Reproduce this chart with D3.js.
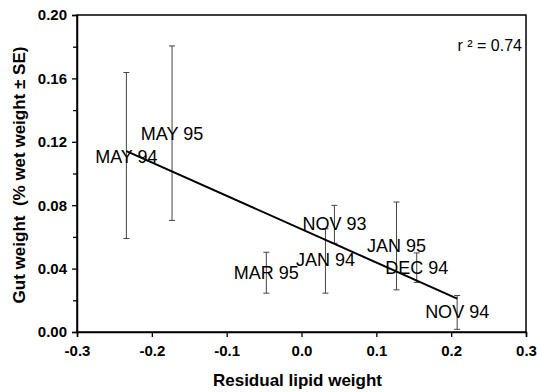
<!DOCTYPE html>
<html>
<head>
<meta charset="utf-8">
<script src="https://cdn.jsdelivr.net/npm/d3@7"></script>
<style>
  body { margin: 0; background: #fff; }
  text { font-family: "Liberation Sans", Arial, sans-serif; }
</style>
</head>
<body>
<div id="chart"></div>
<script>
const width = 537;
const height = 392;

// data
const months = ['MAY 94', 'MAY 95', 'MAR 95', 'JAN 94', 'NOV 93', 'JAN 95', 'DEC 94', 'NOV 94'];
const lipid = [-0.234, -0.173, -0.047, 0.032, 0.044, 0.127, 0.154, 0.208];
const gutMean = [0.111, 0.1255, 0.0378, 0.0455, 0.0683, 0.0543, 0.0406, 0.0127];
const gutLow = [0.059, 0.0704, 0.0245, 0.0245, 0.056, 0.0266, 0.0313, 0.0017];
const gutHigh = [0.1637, 0.1805, 0.0503, 0.0651, 0.0799, 0.082, 0.0499, 0.023];
const xTicks = [-0.3, -0.2, -0.1, 0.0, 0.1, 0.2, 0.3];
const yTicks = [0.00, 0.04, 0.08, 0.12, 0.16, 0.20];
const yMinor = [0.02, 0.06, 0.10, 0.14, 0.18];

const margin = {top: 15, right: 11, bottom: 60, left: 77};

let svg = d3.select('#chart').append('svg')
  .attr('width', width)
  .attr('height', height);

let x = d3.scaleLinear().domain([-0.3, 0.3]).range([margin.left, width - margin.right]);
let y = d3.scaleLinear().domain([0, 0.2]).range([height - margin.bottom, margin.top]);

let points = months.map((m, i) => ({m: m, x: lipid[i], y: gutMean[i], lo: gutLow[i], hi: gutHigh[i]}));

// frame
svg.append('rect')
  .attr('x', x(-0.3))
  .attr('y', y(0.2))
  .attr('width', x(0.3) - x(-0.3))
  .attr('height', y(0) - y(0.2))
  .attr('fill', 'none')
  .attr('stroke', '#000')
  .attr('stroke-width', 1.5);

// axes (plain hyphen for minus, like the original)
let fmtX = d => d3.format('.1f')(d).replace('\u2212', '-');

svg.append('g')
  .attr('transform', `translate(0, ${y(0)})`)
  .call(d3.axisBottom(x).tickValues(xTicks).tickFormat(fmtX).tickSize(5).tickPadding(8));

svg.append('g')
  .attr('transform', `translate(${x(-0.3)}, 0)`)
  .call(d3.axisLeft(y).tickValues(yTicks).tickFormat(d3.format('.2f')).tickSize(5).tickPadding(5));

svg.append('g')
  .attr('transform', `translate(${x(-0.3)}, 0)`)
  .call(d3.axisLeft(y).tickValues(yMinor).tickFormat('').tickSize(4))
  .select('.domain').remove();

svg.selectAll('.domain').attr('stroke-width', 1.5);
svg.selectAll('.tick line').attr('stroke-width', 1.3);
svg.selectAll('.tick text')
  .style('font-size', '15px')
  .style('font-weight', 'bold')
  .attr('fill', '#000');

// error bars
let bars = svg.append('g')
  .attr('stroke', '#444')
  .attr('stroke-width', 1);

bars.selectAll('line.v').data(points).enter().append('line')
  .attr('class', 'v')
  .attr('x1', d => x(d.x)).attr('x2', d => x(d.x))
  .attr('y1', d => y(d.lo)).attr('y2', d => y(d.hi));
bars.selectAll('line.top').data(points).enter().append('line')
  .attr('class', 'top')
  .attr('x1', d => x(d.x) - 3).attr('x2', d => x(d.x) + 3)
  .attr('y1', d => y(d.hi)).attr('y2', d => y(d.hi));
bars.selectAll('line.bot').data(points).enter().append('line')
  .attr('class', 'bot')
  .attr('x1', d => x(d.x) - 3).attr('x2', d => x(d.x) + 3)
  .attr('y1', d => y(d.lo)).attr('y2', d => y(d.lo));

// regression line (least squares)
let mx = d3.mean(lipid), my = d3.mean(gutMean);
let sxy = d3.sum(lipid, (v, i) => (v - mx) * (gutMean[i] - my));
let sxx = d3.sum(lipid, v => (v - mx) * (v - mx));
let slope = sxy / sxx;
let icept = my - slope * mx;
let ext = d3.extent(lipid);
svg.append('line')
  .attr('x1', x(ext[0])).attr('y1', y(icept + slope * ext[0]))
  .attr('x2', x(ext[1])).attr('y2', y(icept + slope * ext[1]))
  .attr('stroke', '#000')
  .attr('stroke-width', 2);

// month labels at each point
svg.append('g').selectAll('text').data(points).enter().append('text')
  .attr('x', d => x(d.x))
  .attr('y', d => y(d.y))
  .attr('text-anchor', 'middle')
  .attr('dy', '0.36em')
  .style('font-size', '18px')
  .text(d => d.m);

// r squared
svg.append('text')
  .attr('x', 522)
  .attr('y', 51)
  .attr('text-anchor', 'end')
  .style('font-size', '16px')
  .text('r ² = 0.74');

// axis titles
svg.append('text')
  .attr('x', (x(-0.3) + x(0.3)) / 2 - 4)
  .attr('y', 386)
  .attr('text-anchor', 'middle')
  .style('font-size', '17px')
  .style('font-weight', 'bold')
  .text('Residual lipid weight');

svg.append('text')
  .attr('transform', 'translate(25, 175) rotate(-90)')
  .attr('text-anchor', 'middle')
  .style('font-size', '17px')
  .style('font-weight', 'bold')
  .style('white-space', 'pre')
  .text('Gut weight  (% wet weight ± SE)');
</script>
</body>
</html>
